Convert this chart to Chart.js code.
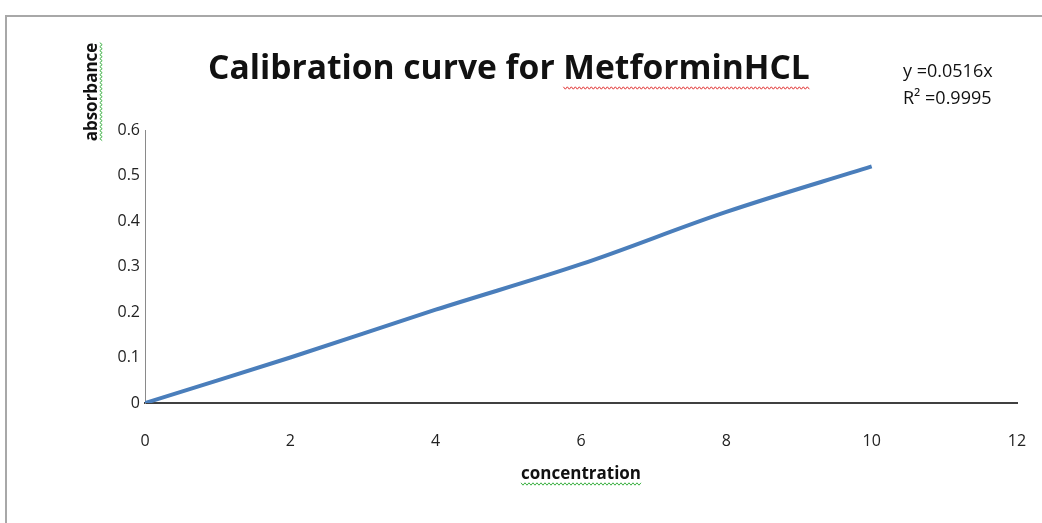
<!DOCTYPE html>
<html>
<head>
<meta charset="utf-8">
<script src="https://cdn.jsdelivr.net/npm/chart.js@4.4.1/dist/chart.umd.min.js"></script>
<style>
  html, body { margin: 0; padding: 0; background: #fff; overflow: hidden; }
  #frame { position: absolute; left: 5px; top: 15px; width: 1100px; height: 600px;
           border-left: 2px solid #a8a8a8; border-top: 2px solid #a8a8a8; }
  #wrap { position: absolute; left: 0; top: 0; width: 1042px; height: 523px; }
</style>
</head>
<body>
<div id="frame"></div>
<div id="wrap"><canvas id="calib" width="1042" height="523"></canvas></div>
<script>
//================================================================ Data
var concentration = [0, 2, 4, 6, 8, 10];
var absorbance = [0, 0.1, 0.205, 0.305, 0.42, 0.52];
var xTicks = [0, 2, 4, 6, 8, 10, 12];
var yTicks = [0, 0.1, 0.2, 0.3, 0.4, 0.5, 0.6];

var chartTitle = "Calibration curve for MetforminHCL";
var xTitle = "concentration";
var yTitle = "absorbance";
var trendLines = ["y =0.0516x", "R\u00B2 =0.9995"];

var points = concentration.map(function (v, i) {
    return { x: v, y: absorbance[i] };
});

//================================================================ Helpers
// wavy spell-check style underline
function squiggle(ctx, x0, y0, len, color, vertical) {
    ctx.save();
    ctx.strokeStyle = color;
    ctx.lineWidth = 1;
    ctx.beginPath();
    var step = 2, up = true;
    for (var d = 0; d <= len; d += step) {
        var off = up ? -1.2 : 1.2;
        if (vertical) {
            ctx.lineTo(x0 + off, y0 + d);
        } else {
            ctx.lineTo(x0 + d, y0 + off);
        }
        up = !up;
    }
    ctx.stroke();
    ctx.restore();
}

var textPlugin = {
    id: 'excelText',
    afterDraw: function (chart) {
        var ctx = chart.ctx;
        ctx.save();
        ctx.fillStyle = '#111';

        // main title, sized to the reference width
        var size = 36;
        ctx.font = 'bold ' + size + 'px "Open Sans"';
        var w = ctx.measureText(chartTitle).width;
        size = size * 602 / w;
        ctx.font = 'bold ' + size.toFixed(1) + 'px "Open Sans"';
        ctx.textAlign = 'left';
        ctx.textBaseline = 'alphabetic';
        ctx.fillText(chartTitle, 208, 79);
        var tw = ctx.measureText("MetforminHCL").width;
        var fullW = ctx.measureText(chartTitle).width;
        squiggle(ctx, 208 + fullW - tw, 88, tw, '#e03030', false);

        // trendline equation
        ctx.font = '18px "Open Sans"';
        ctx.fillStyle = '#111';
        ctx.fillText(trendLines[0], 903, 77);
        ctx.fillText(trendLines[1], 903, 104);

        // x axis title
        ctx.font = 'bold 17px "Open Sans"';
        ctx.textAlign = 'center';
        ctx.fillText(xTitle, 581, 479);
        var xw = ctx.measureText(xTitle).width;
        squiggle(ctx, 581 - xw / 2, 484, xw, '#3cb043', false);

        // y axis title, rotated
        ctx.save();
        ctx.translate(97, 92);
        ctx.rotate(-Math.PI / 2);
        ctx.font = 'bold 17px "Open Sans"';
        ctx.textAlign = 'center';
        ctx.fillText(yTitle, 0, 0);
        var yw = ctx.measureText(yTitle).width;
        ctx.restore();
        squiggle(ctx, 101, 92 - yw / 2, yw, '#3cb043', true);

        ctx.restore();
    }
};

//================================================================ Chart
var ctxCal = document.getElementById("calib").getContext("2d");
var calibChart = new Chart(ctxCal, {
    type: 'line',
    data: {
        datasets: [{
            label: 'absorbance',
            data: points,
            borderColor: '#4a7ebb',
            borderWidth: 4,
            pointRadius: 0,
            tension: 0.35,
            fill: false
        }]
    },
    options: {
        responsive: false,
        animation: false,
        layout: { padding: { top: 130, right: 25, left: 0, bottom: 0 } },
        plugins: {
            legend: { display: false },
            tooltip: { enabled: false }
        },
        scales: {
            x: {
                type: 'linear',
                min: 0,
                max: 12,
                afterFit: function (s) {
                    s.height = 120;
                    s.paddingLeft = 0;
                    s.paddingRight = 0;
                },
                afterBuildTicks: function (s) {
                    s.ticks = xTicks.map(function (v) { return { value: v }; });
                },
                grid: { display: false, drawTicks: false },
                border: { display: true, color: '#404040', width: 2 },
                ticks: {
                    padding: 29,
                    color: '#222',
                    font: { family: 'Open Sans', size: 16 }
                }
            },
            y: {
                type: 'linear',
                min: 0,
                max: 0.6,
                afterFit: function (s) {
                    s.width = 145;
                    s.paddingTop = 0;
                    s.paddingBottom = 0;
                },
                afterBuildTicks: function (s) {
                    s.ticks = yTicks.map(function (v) { return { value: v }; });
                },
                grid: { display: false, drawTicks: false },
                border: { display: true, color: '#8a8a8a', width: 1 },
                ticks: {
                    padding: 5,
                    color: '#222',
                    font: { family: 'Open Sans', size: 16 },
                    callback: function (v) { return String(Math.round(v * 10) / 10); }
                }
            }
        }
    },
    plugins: [textPlugin]
});
</script>
</body>
</html>
